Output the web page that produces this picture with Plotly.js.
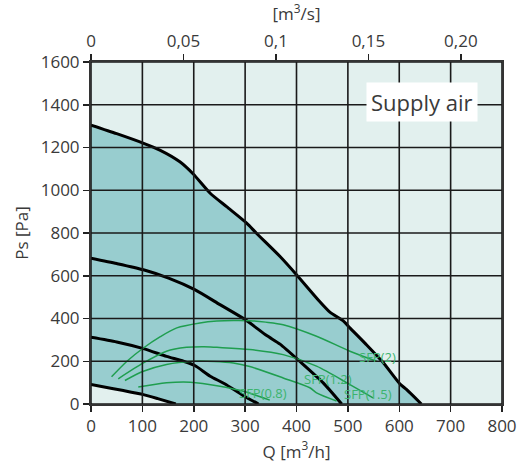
<!DOCTYPE html>
<html>
<head>
<meta charset="utf-8">
<script src="https://cdn.plot.ly/plotly-3.0.1.min.js"></script>
<style>html,body{margin:0;padding:0;background:#fff;}#chart{width:522px;height:470px;}</style>
</head>
<body>
<div id="chart"></div>
<script>
// ---- data (Q in m3/h, Ps in Pa) ----
var maxQ = [0,50,100,134,173,199,232,264,303,322,368,400,442,465,492,504,535,569,601,614,643];
var maxP = [1305,1265,1222,1188,1133,1076,986,923,846,799,690,605,488,430,387,356,280,193,95,68,0];
var c2Q = [0,50,102,151,202,251,300,342,368,407,452,488];
var c2P = [682,657,628,589,535,465,395,320,280,198,99,0];
var c3Q = [0,50,102,147,180,202,232,260,296,326];
var c3P = [312,290,259,223,200,180,130,95,40,0];
var minQ = [0,18,63,102,130,165];
var minP = [91,83,63,44,25,0];

var sfp2Q = [40,70,102,135,167,212,245,277,309,340,374,439,504,556];
var sfp2P = [127,200,262,315,356,379,388,391,390,383,371,317,247,200];
var sfp15Q = [53,102,147,186,220,245,309,374,439,504,549];
var sfp15P = [118,192,247,265,268,265,255,231,177,91,29];
var sfp12Q = [66,102,147,199,240,277,309,374,426,439,478];
var sfp12P = [110,153,185,200,199,192,175,122,76,52,14];
var sfp08Q = [92,147,193,251,300,348];
var sfp08P = [79,99,102,83,57,18];

var sfpLabels = ['SFP(2)','SFP(1.5)','SFP(1.2)','SFP(0.8)'];
var sfpLabelQ = [557,539,461,335];
var sfpLabelP = [222,45,118,53];

var xTicks = [0,100,200,300,400,500,600,700,800];
var yTicks = [0,200,400,600,800,1000,1200,1400,1600];
var topTickVals = [0,0.05,0.1,0.15,0.2];
var topTickText = ['0','0,05','0,1','0,15','0,20'];

// ---- styles ----
var FONT = 'Open Sans, Noto Sans, DejaVu Sans, sans-serif';
var TXT = '#3a3a3a';
var BLACK = {color:'#000', width:3, shape:'spline', smoothing:0.6};
var GREEN = {color:'#1f9e4f', width:1.5, shape:'spline', smoothing:0.8};

var traces = [
  {x:minQ, y:minP, mode:'lines', line:BLACK, hoverinfo:'skip', showlegend:false},
  {x:maxQ, y:maxP, mode:'lines', line:BLACK, fill:'tonexty', fillcolor:'#98cdcf', hoverinfo:'skip', showlegend:false},
  {x:c2Q, y:c2P, mode:'lines', line:BLACK, hoverinfo:'skip', showlegend:false},
  {x:c3Q, y:c3P, mode:'lines', line:BLACK, hoverinfo:'skip', showlegend:false},
  {x:sfp2Q, y:sfp2P, mode:'lines', line:GREEN, hoverinfo:'skip', showlegend:false},
  {x:sfp15Q, y:sfp15P, mode:'lines', line:GREEN, hoverinfo:'skip', showlegend:false},
  {x:sfp12Q, y:sfp12P, mode:'lines', line:GREEN, hoverinfo:'skip', showlegend:false},
  {x:sfp08Q, y:sfp08P, mode:'lines', line:GREEN, hoverinfo:'skip', showlegend:false},
  {x:[0], y:[0], xaxis:'x2', mode:'markers', marker:{opacity:0}, hoverinfo:'skip', showlegend:false}
];

var shapes = [];
xTicks.forEach(function(v){
  shapes.push({type:'line', xref:'x', yref:'y', x0:v, x1:v, y0:yTicks[0], y1:yTicks[yTicks.length-1], layer:'above', line:{color:'#1a1a1a', width:1.6}});
});
yTicks.forEach(function(v){
  shapes.push({type:'line', xref:'x', yref:'y', y0:v, y1:v, x0:xTicks[0], x1:xTicks[xTicks.length-1], layer:'above', line:{color:'#1a1a1a', width:1.6}});
});

var annotations = sfpLabels.map(function(t,i){
  return {text:t, x:sfpLabelQ[i], y:sfpLabelP[i], xref:'x', yref:'y', showarrow:false,
          font:{family:FONT, size:13, color:'#3cb46e'}};
});
annotations.push({text:'Supply air', xref:'paper', yref:'paper', x:0.805, y:0.882,
  xanchor:'center', yanchor:'middle', showarrow:false, bgcolor:'#ffffff', borderpad:4,
  font:{family:FONT, size:22, color:TXT}});

var axisCommon = {
  ticks:'outside', ticklen:6, tickwidth:1.5, tickcolor:'#222',
  showline:true, linecolor:'#333', linewidth:2,
  showgrid:false, zeroline:false,
  tickfont:{family:FONT, size:17, color:TXT}
};

var layout = {
  width:522, height:470,
  margin:{l:91, r:20, t:62, b:66, pad:0},
  paper_bgcolor:'#ffffff', plot_bgcolor:'#e2f0ee',
  font:{family:FONT, color:TXT},
  xaxis:Object.assign({}, axisCommon, {
    range:[0,800], tickvals:xTicks, mirror:true,
    title:{text:'Q [m<sup>3</sup>/h]', font:{family:FONT, size:17, color:TXT}, standoff:6}
  }),
  yaxis:Object.assign({}, axisCommon, {
    range:[0,1600], tickvals:yTicks, mirror:true,
    title:{text:'Ps [Pa]', font:{family:FONT, size:17, color:TXT}, standoff:8}
  }),
  xaxis2:Object.assign({}, axisCommon, {
    overlaying:'x', side:'top', range:[0,800/3600],
    tickvals:topTickVals, ticktext:topTickText,
    title:{text:'[m<sup>3</sup>/s]', font:{family:FONT, size:17, color:TXT}, standoff:4}
  }),
  shapes:shapes,
  annotations:annotations
};

Plotly.newPlot('chart', traces, layout, {staticPlot:true, displayModeBar:false});
</script>
</body>
</html>
